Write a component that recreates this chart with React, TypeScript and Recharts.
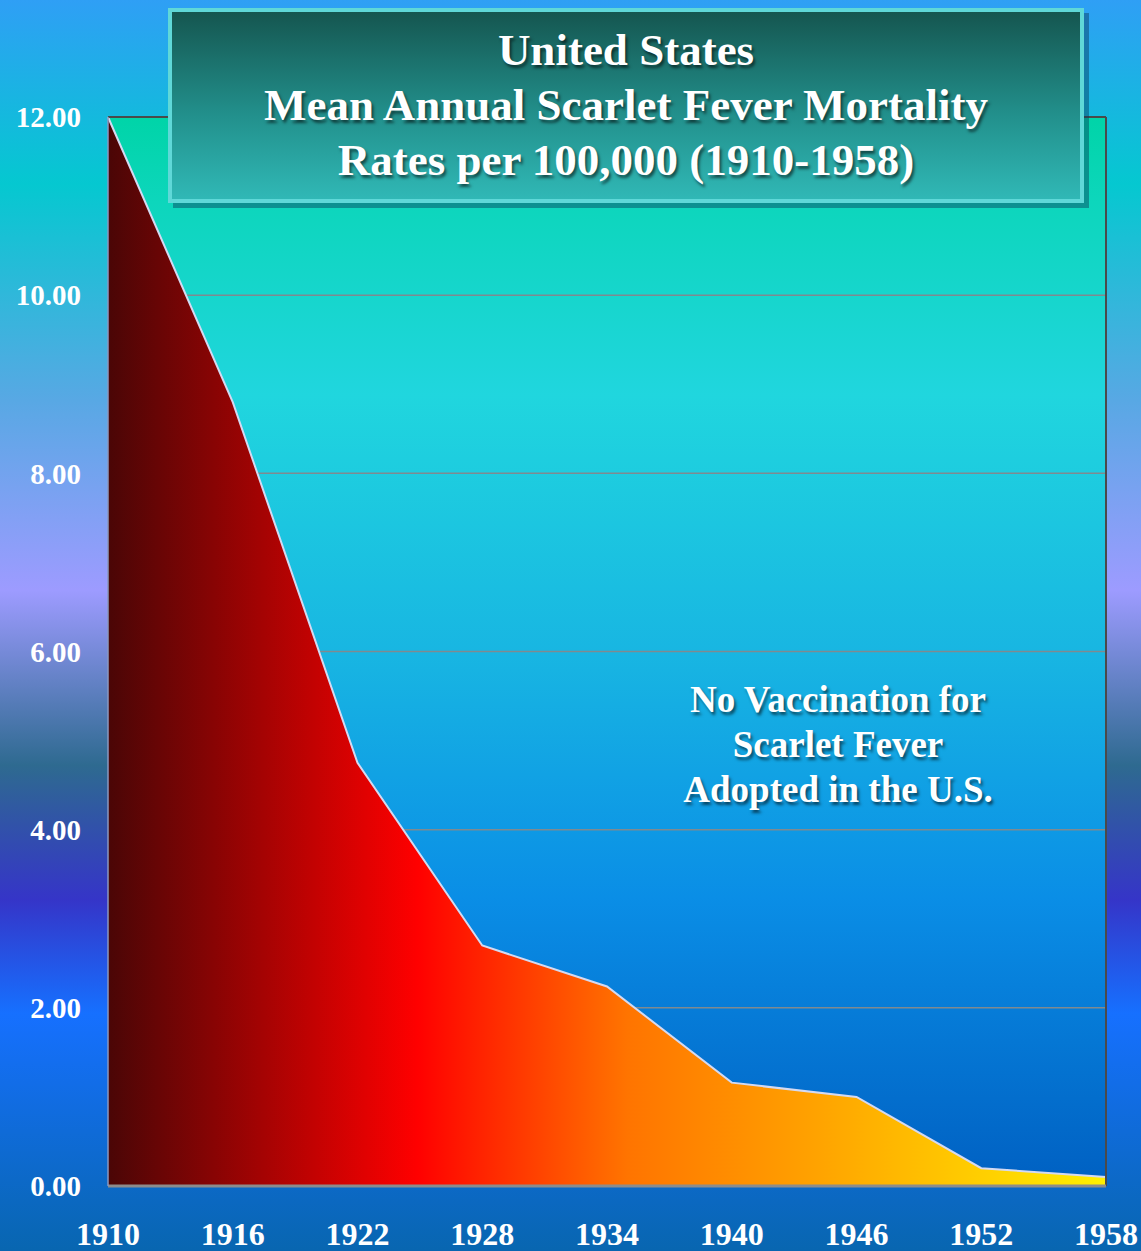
import { AreaChart, Area, XAxis, YAxis, CartesianGrid, ReferenceLine } from 'recharts';

const years = [1910, 1916, 1922, 1928, 1934, 1940, 1946, 1952, 1958];
const rates = [12.0, 8.8, 4.75, 2.7, 2.24, 1.16, 1.0, 0.2, 0.1];
const yTicks = [0, 2, 4, 6, 8, 10, 12];
const titleLines = ['United States', 'Mean Annual Scarlet Fever Mortality', 'Rates per 100,000 (1910-1958)'];
const noteLines = ['No Vaccination for', 'Scarlet Fever', 'Adopted in the U.S.'];

const data = years.map((year, i) => ({ year, rate: rates[i] }));

const FONT = '"Liberation Serif", "Times New Roman", serif';
const SHADOW = '2px 3px 3px rgba(0,0,0,0.55)';

export default function App() {
  return (
    <div
      style={{
        position: 'absolute',
        left: 0,
        top: 0,
        width: 1141,
        height: 1251,
        overflow: 'hidden',
        fontFamily: FONT,
        background:
          'linear-gradient(to bottom, #2f9ff5 0%, #05c8d0 14.7%, #58a8e4 32%, #9d9bff 47.2%, #2e6a90 61.2%, #3535c8 71.9%, #1670ff 81%, #0866b0 100%)',
      }}
    >
      <style>{'body{margin:0}'}</style>
      <AreaChart
        width={1141}
        height={1251}
        data={data}
        margin={{ top: 117, right: 35, bottom: 0, left: 0 }}
      >
        <defs>
          <linearGradient id="plotBg" x1="0" y1="0" x2="0" y2="1">
            <stop offset="0" stopColor="#00d4a8" />
            <stop offset="0.08" stopColor="#0dd6bc" />
            <stop offset="0.26" stopColor="#20d6de" />
            <stop offset="0.5" stopColor="#18b6e2" />
            <stop offset="0.73" stopColor="#0a8ee6" />
            <stop offset="1" stopColor="#0060c2" />
          </linearGradient>
          <linearGradient id="areaFill" x1="0" y1="0" x2="1" y2="0">
            <stop offset="0" stopColor="#4a0606" />
            <stop offset="0.31" stopColor="#ff0000" />
            <stop offset="0.52" stopColor="#ff7400" />
            <stop offset="0.7" stopColor="#ffa000" />
            <stop offset="0.85" stopColor="#ffc800" />
            <stop offset="1" stopColor="#fff000" />
          </linearGradient>
        </defs>
        <CartesianGrid
          vertical={false}
          stroke="#7f8a90"
          strokeWidth={1.5}
          fill="url(#plotBg)"
          horizontalValues={[2, 4, 6, 8, 10]}
        />
        <XAxis
          dataKey="year"
          type="number"
          domain={[1910, 1958]}
          ticks={years}
          height={65}
          tickSize={0}
          tickMargin={36}
          axisLine={{ stroke: '#8c8c8c', strokeWidth: 3 }}
          tick={{ fill: '#ffffff', fontSize: 32, fontWeight: 'bold', fontFamily: FONT }}
          interval={0}
        />
        <YAxis
          domain={[0, 12]}
          ticks={yTicks}
          width={108}
          tickSize={0}
          tickMargin={27}
          tickFormatter={(v: number) => v.toFixed(2)}
          axisLine={{ stroke: '#8a98c0', strokeWidth: 1.5 }}
          tick={{ fill: '#ffffff', fontSize: 29, fontWeight: 'bold', fontFamily: FONT }}
          interval={0}
        />
        <ReferenceLine y={12} stroke="#4a4a4a" strokeWidth={2} />
        <ReferenceLine x={1958} stroke="#4a4a4a" strokeWidth={2} />
        <Area
          type="linear"
          dataKey="rate"
          stroke="#d4daf2"
          strokeWidth={2}
          fill="url(#areaFill)"
          fillOpacity={1}
          dot={false}
          activeDot={false}
          isAnimationActive={false}
        />
      </AreaChart>

      <div
        style={{
          position: 'absolute',
          left: 168,
          top: 8,
          width: 916,
          height: 195,
          boxSizing: 'border-box',
          border: '4px solid #5fd8d8',
          background: 'linear-gradient(to bottom, #155650 0%, #22908c 55%, #30b8b6 100%)',
          boxShadow: '5px 5px 0 rgba(10,60,90,0.45)',
          display: 'flex',
          flexDirection: 'column',
          justifyContent: 'center',
          alignItems: 'center',
          color: '#ffffff',
          fontWeight: 'bold',
          fontSize: 45,
          lineHeight: '55px',
          textShadow: SHADOW,
        }}
      >
        {titleLines.map((t) => (
          <div key={t} style={{ whiteSpace: 'nowrap' }}>{t}</div>
        ))}
      </div>

      <div
        style={{
          position: 'absolute',
          left: 638,
          top: 677,
          width: 400,
          textAlign: 'center',
          color: '#ffffff',
          fontWeight: 'bold',
          fontSize: 37,
          lineHeight: '45px',
          textShadow: SHADOW,
        }}
      >
        {noteLines.map((t) => (
          <div key={t} style={{ whiteSpace: 'nowrap' }}>{t}</div>
        ))}
      </div>
    </div>
  );
}
